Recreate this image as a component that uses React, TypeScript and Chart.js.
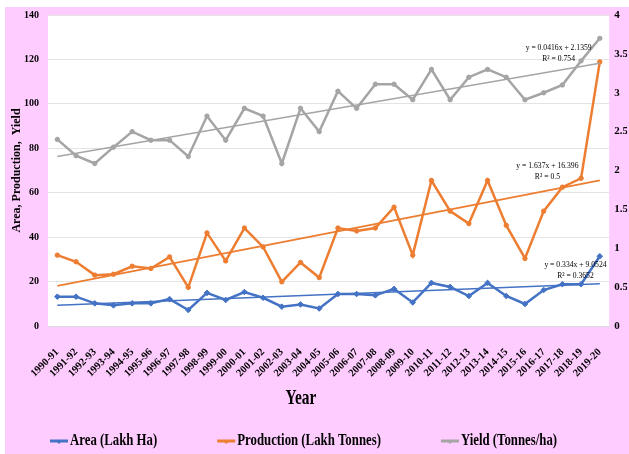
import React, { useEffect, useRef } from "react";
import { Chart, registerables } from "chart.js";

Chart.register(...registerables);

const years = [
  "1990-91", "1991-92", "1992-93", "1993-94", "1994-95", "1995-96", "1996-97", "1997-98",
  "1998-99", "1999-00", "2000-01", "2001-02", "2002-03", "2003-04", "2004-05", "2005-06",
  "2006-07", "2007-08", "2008-09", "2009-10", "2010-11", "2011-12", "2012-13", "2013-14",
  "2014-15", "2015-16", "2016-17", "2017-18", "2018-19", "2019-20",
];

const areaLakhHa = [
  13.2, 13.2, 10.2, 9.3, 10.2, 10.2, 12.1, 7.2, 14.9, 11.7, 15.3, 12.7, 8.7, 9.7, 7.9,
  14.4, 14.4, 13.8, 16.7, 10.6, 19.4, 17.6, 13.5, 19.4, 13.5, 9.9, 16.2, 18.8, 18.8, 31.4,
];

const productionLakhTonnes = [
  31.9, 28.9, 22.9, 23.3, 26.9, 25.9, 31.1, 17.4, 41.9, 29.3, 44.1, 35.6, 19.9, 28.6, 21.8,
  44.1, 42.8, 44.1, 53.5, 31.9, 65.5, 51.7, 46.1, 65.5, 45.3, 30.4, 51.7, 62.5, 66.5, 118.9,
];

const yieldTonnesHa = [
  2.4, 2.19, 2.09, 2.3, 2.5, 2.39, 2.39, 2.18, 2.7, 2.39, 2.8, 2.7, 2.09, 2.8, 2.5,
  3.02, 2.8, 3.11, 3.11, 2.91, 3.3, 2.91, 3.2, 3.3, 3.2, 2.91, 3.0, 3.1, 3.41, 3.7,
];

// trend line values at first and last year
const areaTrend = [9.39, 19.07];
const productionTrend = [18.03, 65.51];
const yieldTrend = [2.18, 3.38];

const leftTicks = { min: 0, max: 140, step: 20 };
const rightTicks = { min: 0, max: 4, step: 0.5 };

const seriesLabels = ["Area (Lakh Ha)", "Production (Lakh Tonnes)", "Yield (Tonnes/ha)"];
const equations = [
  { lines: ["y = 0.0416x + 2.1359", "R² = 0.754"], axis: "y1", at: [26.8, 3.58] },
  { lines: ["y = 1.637x + 16.396", "R² = 0.5"], axis: "y", at: [26.2, 72.2] },
  { lines: ["y = 0.334x + 9.0524", "R² = 0.3652"], axis: "y", at: [27.7, 27.4] },
];

const BLUE = "#4472C4";
const ORANGE = "#ED7D31";
const GRAY = "#A5A5A5";
const PINK = "#FFCCFF";
const SERIF = "'Liberation Serif', 'Times New Roman', serif";

function trendData(v: number[]) {
  return [
    { x: years[0], y: v[0] },
    { x: years[years.length - 1], y: v[1] },
  ];
}

const decorPlugin = {
  id: "decor",
  beforeDraw(chart: any) {
    const { ctx, width, height, chartArea } = chart;
    ctx.save();
    ctx.fillStyle = "#ffffff";
    ctx.fillRect(0, 0, width, height);
    ctx.fillStyle = PINK;
    ctx.fillRect(5, 7, width - 5, height - 7);
    ctx.fillStyle = "#ffffff";
    ctx.fillRect(chartArea.left, chartArea.top, chartArea.right - chartArea.left, chartArea.bottom - chartArea.top);
    ctx.restore();
  },
  afterDraw(chart: any) {
    const { ctx, scales } = chart;
    equations.forEach((eq) => {
      const x = scales.x.getPixelForValue(eq.at[0]);
      const y = scales[eq.axis].getPixelForValue(eq.at[1]);
      eq.lines.forEach((line, i) => {
        ctx.save();
        ctx.translate(x, y + i * 11);
        ctx.scale(0.85, 1);
        ctx.font = `9px ${SERIF}`;
        ctx.fillStyle = "#000";
        ctx.textAlign = "center";
        ctx.textBaseline = "middle";
        ctx.fillText(line, 0, 0);
        ctx.restore();
      });
    });
    ctx.save();
    ctx.translate(301, 398);
    ctx.scale(0.7, 1);
    ctx.font = `bold 22px ${SERIF}`;
    ctx.fillStyle = "#000";
    ctx.textAlign = "center";
    ctx.textBaseline = "middle";
    ctx.fillText("Year", 0, 0);
    ctx.restore();
    const colors = [BLUE, ORANGE, GRAY];
    let lx = 50;
    const ly = 441;
    const sx = 0.8;
    seriesLabels.forEach((label, i) => {
      ctx.save();
      ctx.strokeStyle = colors[i];
      ctx.lineWidth = 3;
      ctx.beginPath();
      ctx.moveTo(lx, ly);
      ctx.lineTo(lx + 18, ly);
      ctx.stroke();
      ctx.fillStyle = colors[i];
      ctx.beginPath();
      ctx.moveTo(lx + 6, ly);
      ctx.lineTo(lx + 12, ly);
      ctx.lineTo(lx + 9, ly + 3);
      ctx.closePath();
      ctx.fill();
      ctx.restore();
      ctx.save();
      ctx.font = `bold 16px ${SERIF}`;
      const w = ctx.measureText(label).width * sx;
      ctx.translate(lx + 20, ly);
      ctx.scale(sx, 1);
      ctx.fillStyle = "#000";
      ctx.textAlign = "left";
      ctx.textBaseline = "middle";
      ctx.fillText(label, 0, 0);
      ctx.restore();
      lx += 20 + w + 60;
    });
  },
};

export default function App() {
  const ref = useRef<HTMLCanvasElement | null>(null);
  useEffect(() => {
    document.body.style.margin = "0";
    if (!ref.current) return;
    const chart = new Chart(ref.current, {
      type: "line",
      data: {
        labels: years,
        datasets: [
          {
            label: "Area trend",
            data: trendData(areaTrend) as any,
            yAxisID: "y",
            borderColor: BLUE,
            borderWidth: 1.5,
            pointRadius: 0,
            order: 0,
          },
          {
            label: "Production trend",
            data: trendData(productionTrend) as any,
            yAxisID: "y",
            borderColor: ORANGE,
            borderWidth: 1.8,
            pointRadius: 0,
            order: 0,
          },
          {
            label: "Yield trend",
            data: trendData(yieldTrend) as any,
            yAxisID: "y1",
            borderColor: GRAY,
            borderWidth: 1.5,
            pointRadius: 0,
            order: 0,
          },
          {
            label: seriesLabels[0],
            data: areaLakhHa,
            yAxisID: "y",
            borderColor: BLUE,
            backgroundColor: BLUE,
            borderWidth: 2.5,
            pointStyle: "rectRot",
            pointRadius: 2.8,
            pointBorderWidth: 1,
            order: 1,
          },
          {
            label: seriesLabels[1],
            data: productionLakhTonnes,
            yAxisID: "y",
            borderColor: ORANGE,
            backgroundColor: ORANGE,
            borderWidth: 2.5,
            pointStyle: "circle",
            pointRadius: 2.2,
            pointBorderWidth: 1,
            order: 1,
          },
          {
            label: seriesLabels[2],
            data: yieldTonnesHa,
            yAxisID: "y1",
            borderColor: GRAY,
            backgroundColor: GRAY,
            borderWidth: 2.5,
            pointStyle: "circle",
            pointRadius: 2.2,
            pointBorderWidth: 1,
            order: 1,
          },
        ],
      },
      options: {
        responsive: false,
        animation: false,
        devicePixelRatio: 1,
        layout: { padding: { top: 14, left: 0, right: 0, bottom: 0 } },
        plugins: {
          legend: { display: false },
          tooltip: { enabled: false },
        },
        scales: {
          x: {
            type: "category",
            offset: true,
            grid: { display: false, drawTicks: false },
            border: { display: true, color: "#D9D9D9", width: 1 },
            ticks: {
              autoSkip: false,
              minRotation: 45,
              maxRotation: 45,
              padding: 20,
              color: "#000",
              font: { family: SERIF, size: 10.5, weight: "bold" },
            },
            afterFit: (s: any) => {
              s.height = 128;
            },
          },
          y: {
            position: "left",
            min: leftTicks.min,
            max: leftTicks.max,
            grid: { color: "#E4E4E4", drawTicks: false },
            border: { display: false },
            ticks: {
              stepSize: leftTicks.step,
              padding: 9,
              color: "#000",
              font: { family: SERIF, size: 10, weight: "bold" },
            },
            title: {
              display: true,
              text: "Area, Production,  Yield",
              color: "#000",
              font: { family: SERIF, size: 12, weight: "bold" },
              padding: { top: 10, bottom: 0 },
            },
            afterFit: (s: any) => {
              s.width = 48;
            },
          },
          y1: {
            position: "right",
            min: rightTicks.min,
            max: rightTicks.max,
            grid: { display: false, drawTicks: false },
            border: { display: false },
            ticks: {
              stepSize: rightTicks.step,
              padding: 5,
              color: "#000",
              font: { family: SERIF, size: 11, weight: "bold" },
              callback: (v: any) => String(Number(v)),
            },
            afterFit: (s: any) => {
              s.width = 18;
            },
          },
        },
      },
      plugins: [decorPlugin],
    });
    return () => chart.destroy();
  }, []);
  return <canvas ref={ref} width={629} height={454} style={{ display: "block" }} />;
}
